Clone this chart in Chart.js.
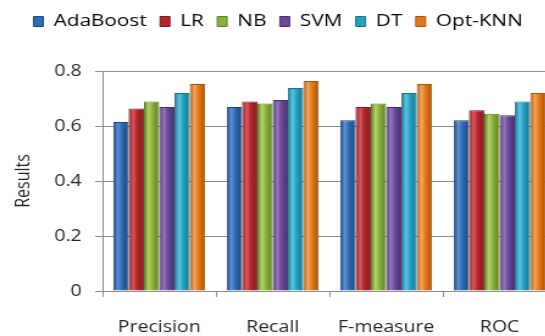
<!DOCTYPE html>
<html>
<head>
<meta charset="utf-8">
<script src="https://cdn.jsdelivr.net/npm/chart.js@4"></script>
<style>
  html, body { margin: 0; padding: 0; background: #fff; overflow: hidden; }
  #wrap { width: 545px; height: 336px; overflow: hidden; }
  /* the figure is laid out a little narrow, then widened */
  #resultsChart { display: block; transform: scaleX(1.22); transform-origin: 0 0; }
</style>
</head>
<body>
<div id="wrap"><canvas id="resultsChart" width="460" height="336"></canvas></div>
<script>
const categories = ["Precision", "Recall", "F-measure", "ROC"];
const adaBoost = [0.615, 0.669, 0.621, 0.621];
const lr = [0.664, 0.689, 0.669, 0.657];
const nb = [0.689, 0.682, 0.682, 0.645];
const svm = [0.669, 0.695, 0.669, 0.639];
const dt = [0.720, 0.738, 0.720, 0.689];
const optKnn = [0.753, 0.764, 0.753, 0.720];
const yTicks = [0, 0.2, 0.4, 0.6, 0.8];

const seriesNames = ["AdaBoost", "LR", "NB", "SVM", "DT", "Opt-KNN"];
const seriesValues = [adaBoost, lr, nb, svm, dt, optKnn];
const palette = [
    { base: "#2f6cb4", dark: "#1c4680", light: "#5a93d6" },
    { base: "#b3282d", dark: "#7c1a1e", light: "#d9575b" },
    { base: "#8bb23a", dark: "#5e7d22", light: "#b2d466" },
    { base: "#6b4a9a", dark: "#47306a", light: "#9576c2" },
    { base: "#26a1c4", dark: "#16728c", light: "#5dc6e2" },
    { base: "#e57a18", dark: "#a8550c", light: "#f7a65a" }
];

const CAT_PCT = 0.81;
const FONT = "'Open Sans', 'DejaVu Sans', sans-serif";
const TEXT = "#262626";
const LINE = "#8c8c8c";

// cylinder-like shading across each bar
function barFill(ctx) {
    const c = palette[ctx.datasetIndex];
    const chart = ctx.chart;
    const xs = chart.scales && chart.scales.x;
    if (!xs || ctx.dataIndex == null || !chart.chartArea) return c.base;
    const catW = xs.width / categories.length;
    const barW = catW * CAT_PCT / seriesNames.length;
    const center = xs.getPixelForValue(ctx.dataIndex);
    const left = center - catW * CAT_PCT / 2 + ctx.datasetIndex * barW;
    const g = chart.ctx.createLinearGradient(left, 0, left + barW, 0);
    g.addColorStop(0, c.dark);
    g.addColorStop(0.3, c.light);
    g.addColorStop(0.55, c.base);
    g.addColorStop(1, c.dark);
    return g;
}

const datasets = seriesNames.map((name, i) => ({
    label: name,
    data: seriesValues[i],
    backgroundColor: barFill,
    borderColor: palette[i].dark,
    borderWidth: 1,
    borderSkipped: "bottom",
    categoryPercentage: CAT_PCT,
    barPercentage: 1
}));

// fixed room for the legend row above the plot
const legendHeight = {
    id: "legendHeight",
    beforeInit(chart) {
        const fit = chart.legend.fit;
        chart.legend.fit = function () {
            fit.call(this);
            this.height = 69;
        };
    }
};

new Chart(document.getElementById("resultsChart"), {
    type: "bar",
    data: { labels: categories, datasets: datasets },
    plugins: [legendHeight],
    options: {
        responsive: false,
        animation: false,
        layout: { padding: { top: 2, right: 4, left: 0, bottom: 0 } },
        scales: {
            x: {
                grid: { drawOnChartArea: false, color: LINE, tickLength: 6 },
                border: { color: LINE },
                ticks: { color: TEXT, font: { family: FONT, size: 16 }, padding: 21 },
                afterFit: (s) => { s.height = 45; }
            },
            y: {
                min: 0,
                max: 0.8,
                afterBuildTicks: (s) => { s.ticks = yTicks.map(v => ({ value: v })); },
                grid: { color: LINE, tickLength: 6 },
                border: { color: LINE },
                ticks: {
                    color: TEXT,
                    font: { family: FONT, size: 16 },
                    padding: 11,
                    callback: (v) => String(v)
                },
                title: {
                    display: true,
                    text: "Results",
                    color: TEXT,
                    font: { family: FONT, size: 16 },
                    padding: { top: 10, bottom: 0 }
                },
                afterFit: (s) => { s.width = 84; }
            }
        },
        plugins: {
            legend: {
                position: "top",
                align: "center",
                labels: {
                    color: TEXT,
                    font: { family: FONT, size: 17 },
                    boxWidth: 8,
                    boxHeight: 10,
                    padding: 11,
                    generateLabels: () => seriesNames.map((name, i) => ({
                        text: name,
                        fillStyle: palette[i].base,
                        strokeStyle: palette[i].dark,
                        lineWidth: 1,
                        datasetIndex: i
                    }))
                }
            },
            tooltip: { enabled: false }
        }
    }
});
</script>
</body>
</html>
